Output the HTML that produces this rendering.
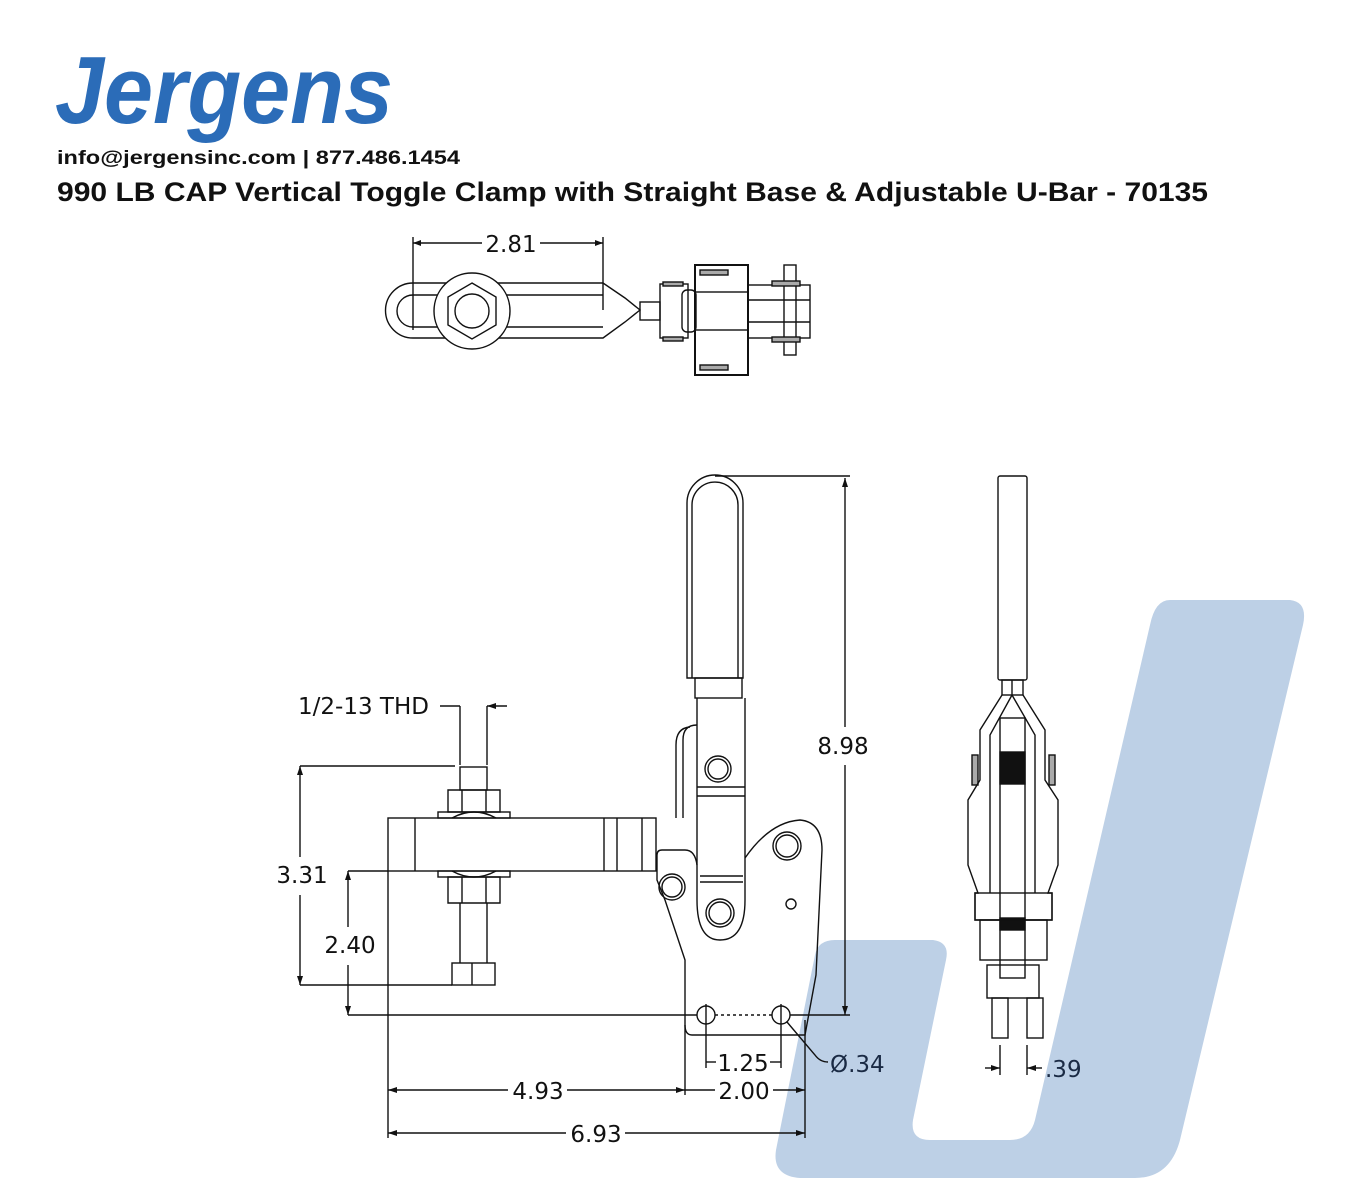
<!DOCTYPE html>
<html><head><meta charset="utf-8"><style>
html,body{margin:0;padding:0;background:#fff;}
svg{display:block;}
</style></head><body>
<svg width="1360" height="1200" viewBox="0 0 1360 1200" xmlns="http://www.w3.org/2000/svg" font-family="Liberation Sans, sans-serif">
<path d="M1170,600 L1290,600 Q1308,602 1303,625 L1180,1140 Q1170,1178 1135,1178 L800,1178 Q772,1176 776,1150 L815,955 Q818,940 835,940 L933,940 Q950,942 946,960 L913,1120 Q910,1140 930,1140 L1010,1140 Q1030,1140 1035,1120 L1150,625 Q1155,600 1170,600 Z" fill="#bdd0e6"/>

<text x="55" y="123" font-size="96" font-weight="bold" font-style="italic" fill="#2b6cb8" textLength="338" lengthAdjust="spacingAndGlyphs">Jergens</text>
<text x="57" y="164" font-size="19" font-weight="bold" fill="#111" textLength="403" lengthAdjust="spacingAndGlyphs">info@jergensinc.com | 877.486.1454</text>
<text x="57" y="201" font-size="27" font-weight="bold" fill="#111" textLength="1151" lengthAdjust="spacingAndGlyphs">990 LB CAP Vertical Toggle Clamp with Straight Base &amp; Adjustable U-Bar - 70135</text>

<g fill="none" stroke="#111" stroke-width="1.4">
<line x1="413" y1="243" x2="482" y2="243"/><line x1="540" y1="243" x2="603" y2="243"/>
<line x1="413" y1="237" x2="413" y2="330"/><line x1="603" y1="237" x2="603" y2="310"/>
<path d="M413,283 L603,283 L625,298 L640,310 L625,322 L603,338 L413,338 A27.5,27.5 0 0 1 413,283 Z"/>
<path d="M413,295 L603,295 M413,327 L603,327 M413,295 A16,16 0 0 0 413,327"/>
<circle cx="472" cy="311" r="38" fill="#fff"/>
<polygon points="472,283 496,297 496,325 472,339 448,325 448,297" fill="#fff"/>
<circle cx="472" cy="311" r="17"/>
<rect x="640" y="302" width="20" height="18"/>
<rect x="660" y="284" width="28" height="54"/>
<rect x="663" y="282" width="20" height="4" fill="#aaa"/><rect x="663" y="337" width="20" height="4" fill="#aaa"/>
<rect x="682" y="290" width="14" height="42" rx="5"/>
<rect x="695" y="265" width="53" height="110" stroke-width="2"/>
<rect x="700" y="270" width="28" height="5" fill="#aaa"/><rect x="700" y="365" width="28" height="5" fill="#aaa"/>
<rect x="695" y="292" width="53" height="38"/>
<rect x="748" y="285" width="62" height="53"/>
<line x1="748" y1="300" x2="810" y2="300"/><line x1="748" y1="322" x2="810" y2="322"/>
<rect x="784" y="265" width="12" height="90"/>
<rect x="772" y="281" width="28" height="5" fill="#aaa"/><rect x="772" y="337" width="28" height="5" fill="#aaa"/>

<path d="M687,678 L687,503 A28,28 0 0 1 743,503 L743,678 Z"/>
<path d="M692,678 L692,505 A23,23 0 0 1 738,505 L738,678"/>
<rect x="695" y="678" width="47" height="20"/>
<line x1="715" y1="476" x2="850" y2="476"/>
<line x1="845" y1="478" x2="845" y2="727"/><line x1="845" y1="765" x2="845" y2="1015"/>
<path d="M683,818 L683,740 Q683,725 697,725"/>
<path d="M676,818 L676,745 Q676,728 690,727"/>
<path d="M697,698 L697,900 Q697,940 720,940 Q745,940 745,900 L745,698"/>
<line x1="697" y1="787" x2="745" y2="787"/><line x1="697" y1="796" x2="745" y2="796"/>
<line x1="700" y1="876" x2="743" y2="876"/><line x1="700" y1="882" x2="743" y2="882"/>
<circle cx="718" cy="769" r="13"/><circle cx="718" cy="769" r="10"/>
<circle cx="720" cy="913" r="14"/><circle cx="720" cy="913" r="11"/>
<rect x="388" y="818" width="268" height="53" fill="#fff"/>
<line x1="415" y1="818" x2="415" y2="871"/>
<line x1="604" y1="818" x2="604" y2="871"/><line x1="617" y1="818" x2="617" y2="871"/><line x1="642" y1="818" x2="642" y2="871"/>
<path d="M745,858 Q770,822 800,820 Q822,822 822,850 L816,975 L805,1035 L692,1035 Q685,1035 685,1025 L685,960 L665,900 L657,880 L657,855 Q657,850 662,850 L685,850 Q695,850 697,865"/>
<circle cx="787" cy="846" r="14"/><circle cx="787" cy="846" r="11"/>
<circle cx="672" cy="887" r="13"/><circle cx="672" cy="887" r="10"/>
<circle cx="791" cy="904" r="5"/>
<circle cx="706" cy="1015" r="9"/><circle cx="781" cy="1015" r="9"/>
<line x1="706" y1="1004" x2="706" y2="1026"/><line x1="781" y1="1004" x2="781" y2="1026"/>
<rect x="460" y="767" width="27" height="23"/>
<path d="M448,790 L500,790 L500,812 L448,812 Z"/><line x1="462" y1="790" x2="462" y2="812"/><line x1="486" y1="790" x2="486" y2="812"/>
<rect x="438" y="812" width="72" height="6"/>
<path d="M452,818 Q474,806 496,818"/>
<path d="M452,871 Q474,883 496,871"/>
<rect x="438" y="871" width="72" height="6"/>
<path d="M448,877 L500,877 L500,903 L448,903 Z"/><line x1="462" y1="877" x2="462" y2="903"/><line x1="486" y1="877" x2="486" y2="903"/>
<line x1="460" y1="903" x2="460" y2="963"/><line x1="487" y1="903" x2="487" y2="963"/>
<rect x="452" y="963" width="43" height="22"/><line x1="472" y1="963" x2="472" y2="985"/>
<line x1="440" y1="706" x2="460" y2="706"/><line x1="460" y1="706" x2="460" y2="765"/><line x1="487" y1="706" x2="487" y2="765"/><line x1="487" y1="706" x2="507" y2="706"/>
<line x1="300" y1="766" x2="455" y2="766"/><line x1="300" y1="766" x2="300" y2="857"/><line x1="300" y1="895" x2="300" y2="985"/><line x1="300" y1="985" x2="452" y2="985"/>
<line x1="348" y1="871" x2="388" y2="871"/><line x1="348" y1="871" x2="348" y2="927"/><line x1="348" y1="965" x2="348" y2="1015"/>
<line x1="348" y1="1015" x2="697" y2="1015"/><line x1="790" y1="1015" x2="850" y2="1015"/>
<line x1="715" y1="1015" x2="772" y2="1015" stroke-dasharray="3,3"/>
<line x1="388" y1="871" x2="388" y2="1138"/>
<line x1="685" y1="1025" x2="685" y2="1095"/><line x1="805" y1="1020" x2="805" y2="1138"/>
<line x1="706" y1="1026" x2="706" y2="1068"/><line x1="781" y1="1026" x2="781" y2="1068"/>
<line x1="706" y1="1062" x2="716" y2="1062"/><line x1="770" y1="1062" x2="781" y2="1062"/>
<line x1="388" y1="1090" x2="508" y2="1090"/><line x1="567" y1="1090" x2="685" y2="1090"/>
<line x1="685" y1="1090" x2="715" y2="1090"/><line x1="773" y1="1090" x2="805" y2="1090"/>
<line x1="388" y1="1133" x2="566" y2="1133"/><line x1="625" y1="1133" x2="805" y2="1133"/>
<path d="M787,1022 L815,1055 Q820,1062 828,1062"/>

<rect x="998" y="476" width="29" height="204" rx="2"/>
<line x1="1012" y1="680" x2="1012" y2="695"/>
<rect x="1002" y="680" width="21" height="15"/>
<path d="M1002,695 L980,730 L980,760 M1023,695 L1045,730 L1045,760"/>
<path d="M1012,695 L990,735 L990,760 M1012,695 L1035,735 L1035,760"/>
<rect x="1000" y="718" width="25" height="260"/>
<rect x="1000" y="752" width="25" height="32" fill="#111"/>
<rect x="1000" y="918" width="25" height="12" fill="#111"/>
<rect x="972" y="755" width="6" height="30" fill="#aaa"/><rect x="1049" y="755" width="6" height="30" fill="#aaa"/>
<path d="M980,760 L980,780 L968,800 L968,865 L978,893 L975,893 L975,920 L1052,920 L1052,893 L1048,893 L1058,865 L1058,800 L1045,780 L1045,760"/>
<path d="M990,760 L990,893 M1035,760 L1035,893"/>
<rect x="975" y="893" width="77" height="27"/>
<rect x="980" y="920" width="67" height="40"/>
<rect x="987" y="965" width="52" height="33"/>
<rect x="992" y="998" width="16" height="40"/><rect x="1027" y="998" width="16" height="40"/>
<line x1="1000" y1="1045" x2="1000" y2="1075"/><line x1="1027" y1="1045" x2="1027" y2="1075"/>
<line x1="985" y1="1068" x2="1000" y2="1068"/><line x1="1027" y1="1068" x2="1042" y2="1068"/>
</g>
<g fill="#111">
<polygon points="413,243 421,240 421,246"/><polygon points="603,243 595,240 595,246"/>
<polygon points="845,478 842,487 848,487"/><polygon points="845,1015 842,1006 848,1006"/>
<polygon points="487,706 496,703 496,709"/>
<polygon points="300,766 297,775 303,775"/><polygon points="300,985 297,976 303,976"/>
<polygon points="348,871 345,880 351,880"/><polygon points="348,1015 345,1006 351,1006"/>
<polygon points="388,1090 397,1087 397,1093"/><polygon points="685,1090 676,1087 676,1093"/><polygon points="805,1090 796,1087 796,1093"/>
<polygon points="388,1133 397,1130 397,1136"/><polygon points="805,1133 796,1130 796,1136"/>
<polygon points="1000,1068 991,1065 991,1071"/><polygon points="1027,1068 1036,1065 1036,1071"/>
</g>
<g font-family="DejaVu Sans, Liberation Sans, sans-serif" font-size="23" fill="#111">
<text x="511" y="252" text-anchor="middle">2.81</text>
<text x="298" y="714">1/2-13 THD</text>
<text x="843" y="754" text-anchor="middle">8.98</text>
<text x="302" y="883" text-anchor="middle">3.31</text>
<text x="350" y="953" text-anchor="middle">2.40</text>
<text x="743" y="1071" text-anchor="middle">1.25</text>
<text x="538" y="1099" text-anchor="middle">4.93</text>
<text x="744" y="1099" text-anchor="middle">2.00</text>
<text x="596" y="1142" text-anchor="middle">6.93</text>
<text x="830" y="1072" fill="#1a2a44">Ø.34</text>
<text x="1045" y="1077" fill="#1a2a44">.39</text>
</g>
</svg>
</body></html>
